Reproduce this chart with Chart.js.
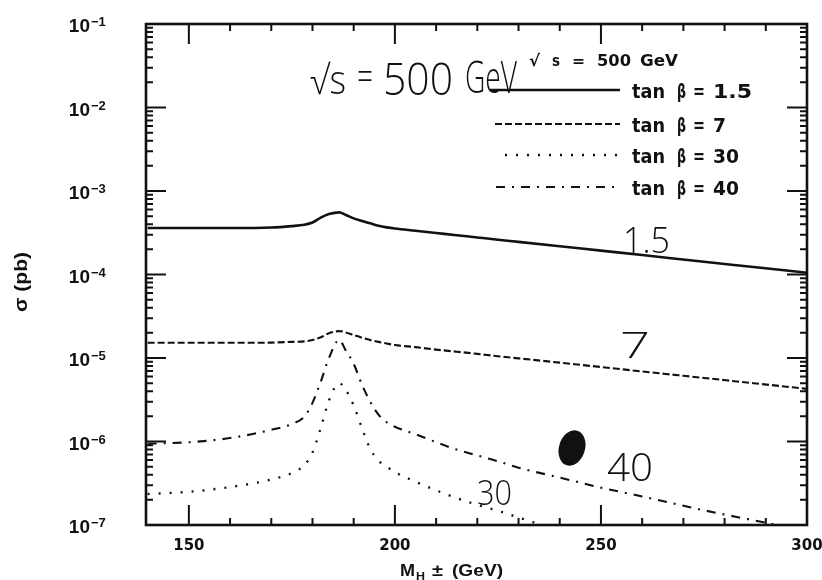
<!DOCTYPE html>
<html>
<head>
<meta charset="utf-8">
<script src="https://cdn.jsdelivr.net/npm/chart.js@4.4.0/dist/chart.umd.min.js"></script>
<style>
html, body { margin: 0; padding: 0; background: #fff; }
#wrap { width: 822px; height: 580px; }
</style>
</head>
<body>
<div id="wrap"><canvas id="xsec-chart" width="822" height="580"></canvas></div>
<script>
// charged Higgs mass (GeV)
var masses = [140, 150, 160, 170, 175, 178, 180, 182, 184, 186.5, 188, 190, 192, 194, 196, 198, 200,
              205, 210, 215, 220, 225, 230, 240, 250, 260, 275, 287, 300];

// cross sections (pb), one array per tan beta
var tanB15 = [3.6e-4, 3.6e-4, 3.6e-4, 3.65e-4, 3.8e-4, 3.95e-4, 4.2e-4, 4.8e-4, 5.3e-4, 5.55e-4, 5.2e-4, 4.7e-4, 4.37e-4, 4.1e-4, 3.84e-4, 3.67e-4, 3.55e-4,
              3.34e-4, 3.14e-4, 2.95e-4, 2.78e-4, 2.61e-4, 2.46e-4, 2.18e-4, 1.93e-4, 1.71e-4, 1.42e-4, 1.23e-4, 1.05e-4];
var tanB7 = [1.52e-5, 1.52e-5, 1.52e-5, 1.53e-5, 1.56e-5, 1.58e-5, 1.64e-5, 1.77e-5, 1.98e-5, 2.1e-5, 2.03e-5, 1.88e-5, 1.75e-5, 1.64e-5, 1.56e-5, 1.49e-5, 1.43e-5,
             1.35e-5, 1.26e-5, 1.19e-5, 1.12e-5, 1.05e-5, 9.9e-6, 8.8e-6, 7.8e-6, 6.9e-6, 5.77e-6, 4.99e-6, 4.27e-6];
var tanB30 = [2.35e-7, 2.5e-7, 2.85e-7, 3.5e-7, 4.2e-7, 5.2e-7, 7.4e-7, 1.45e-6, 3.1e-6, 5.0e-6, 4.2e-6, 2.7e-6, 1.45e-6, 8.2e-7, 5.9e-7, 5.0e-7, 4.3e-7,
              3.3e-7, 2.6e-7, 2.1e-7, 1.74e-7, 1.48e-7, 1.23e-7, 8.5e-8, null, null, null, null, null];
var tanB40 = [9.4e-7, 9.8e-7, 1.1e-6, 1.38e-6, 1.62e-6, 1.98e-6, 2.9e-6, 5.2e-6, 1.0e-5, 1.65e-5, 1.25e-5, 8.5e-6, 4.8e-6, 3.0e-6, 2.1e-6, 1.7e-6, 1.5e-6,
              1.22e-6, 9.8e-7, 8.0e-7, 6.8e-7, 5.8e-7, 4.85e-7, 3.7e-7, 2.8e-7, 2.2e-7, 1.5e-7, 1.14e-7, 8.5e-8];

var legendLabels = ['1.5', '7', '30', '40'];
var xMajorTicks = [150, 200, 250, 300];
var xMinorTicks = [160, 170, 180, 190, 210, 220, 230, 240, 260, 270, 280, 290];
var yDecades = [1e-7, 1e-6, 1e-5, 1e-4, 1e-3, 1e-2, 1e-1];
var yExponents = ['\u22127', '\u22126', '\u22125', '\u22124', '\u22123', '\u22122', '\u22121'];
var yMinorFactors = [2, 3, 4, 5, 6, 7, 8, 9];

var ink = '#111';
var dashes = [[], [7, 3], [2, 9], [9, 7, 2, 7]];
var widths = [2.6, 2.1, 2.3, 2.1];
var handFont = '300 40px "Open Sans", "Liberation Sans", sans-serif';

function points(values) {
    return masses.map(function (m, i) { return { x: m, y: values[i] }; });
}

function fitText(ctx, text, x, y, w, font) {
    ctx.font = font;
    var m = ctx.measureText(text).width;
    ctx.save();
    ctx.translate(x, y);
    ctx.scale(w / m, 1);
    ctx.fillText(text, 0, 0);
    ctx.restore();
}

var paperPlugin = {
    id: 'paper',
    afterDraw: function (chart) {
        var ctx = chart.ctx;
        var a = chart.chartArea;
        var xs = chart.scales.x;
        var ys = chart.scales.y;

        ctx.save();
        ctx.strokeStyle = ink;
        ctx.fillStyle = ink;

        // frame
        ctx.lineWidth = 2.6;
        ctx.strokeRect(a.left, a.top, a.right - a.left, a.bottom - a.top);

        // inward ticks on all four sides
        ctx.lineWidth = 2;
        ctx.beginPath();
        function xTick(v, len) {
            var px = xs.getPixelForValue(v);
            ctx.moveTo(px, a.bottom); ctx.lineTo(px, a.bottom - len);
            ctx.moveTo(px, a.top); ctx.lineTo(px, a.top + len);
        }
        function yTick(v, len) {
            var py = ys.getPixelForValue(v);
            ctx.moveTo(a.left, py); ctx.lineTo(a.left + len, py);
            ctx.moveTo(a.right, py); ctx.lineTo(a.right - len, py);
        }
        xMajorTicks.forEach(function (v) { xTick(v, 20); });
        xMinorTicks.forEach(function (v) { xTick(v, 7); });
        yDecades.forEach(function (d, i) {
            yTick(d, 20);
            if (i < yDecades.length - 1) {
                yMinorFactors.forEach(function (f) { yTick(d * f, 7); });
            }
        });
        ctx.stroke();

        // y tick labels 10^-n
        ctx.textBaseline = 'alphabetic';
        yDecades.forEach(function (d, i) {
            var py = ys.getPixelForValue(d);
            ctx.font = 'bold 19px "Liberation Sans", sans-serif';
            ctx.textAlign = 'right';
            ctx.fillText('10', 90, py + 8);
            ctx.font = 'bold 13px "Liberation Sans", sans-serif';
            ctx.textAlign = 'left';
            ctx.fillText(yExponents[i], 91, py + 2);
        });

        // axis titles
        ctx.textAlign = 'left';
        ctx.save();
        ctx.translate(27, 312);
        ctx.rotate(-Math.PI / 2);
        fitText(ctx, '\u03c3 (pb)', 0, 0, 60, 'bold 19px "Liberation Sans", sans-serif');
        ctx.restore();
        fitText(ctx, 'M', 400, 576, 15, 'bold 17px "Liberation Sans", sans-serif');
        fitText(ctx, 'H', 416, 580, 9, 'bold 10px "Liberation Sans", sans-serif');
        fitText(ctx, '\u00b1', 432, 576, 11, 'bold 17px "Liberation Sans", sans-serif');
        fitText(ctx, '(GeV)', 452, 576, 51, 'bold 17px "Liberation Sans", sans-serif');

        // legend
        var bold16 = 'bold 16px "DejaVu Sans", sans-serif';
        fitText(ctx, '\u221a', 529, 66, 11, bold16);
        fitText(ctx, 's', 552, 66, 8, bold16);
        fitText(ctx, '=', 572, 66, 13, bold16);
        fitText(ctx, '500', 597, 66, 34, bold16);
        fitText(ctx, 'GeV', 640, 66, 38, bold16);
        var rows = [90, 124, 155, 187];
        var starts = [490, 495, 505, 496];
        var bold19 = 'bold 19px "DejaVu Sans", sans-serif';
        legendLabels.forEach(function (lab, i) {
            ctx.save();
            ctx.lineWidth = widths[i];
            ctx.setLineDash(dashes[i]);
            ctx.beginPath();
            ctx.moveTo(starts[i], rows[i]);
            ctx.lineTo(620, rows[i]);
            ctx.stroke();
            ctx.restore();
            var base = rows[i] + 8;
            fitText(ctx, 'tan', 632, base, 33, bold19);
            fitText(ctx, '\u03b2', 677, base, 9, bold19);
            fitText(ctx, '=', 693, base, 12, bold19);
            fitText(ctx, lab, 713, base, lab.length === 1 ? 13 : lab.length * 13, bold19);
        });

        // handwritten notes on the figure
        fitText(ctx, '\u221as', 310, 94, 36, handFont);
        fitText(ctx, '=', 357, 90, 16, handFont);
        fitText(ctx, '500', 383, 95, 70, '300 44px "Open Sans", "Liberation Sans", sans-serif');
        fitText(ctx, 'GeV', 465, 93, 52, '300 44px "Open Sans", "Liberation Sans", sans-serif');
        fitText(ctx, '1.5', 623, 253, 47, '300 36px "Open Sans", "Liberation Sans", sans-serif');
        fitText(ctx, '7', 620, 358, 30, '300 36px "Open Sans", "Liberation Sans", sans-serif');
        fitText(ctx, '40', 607, 481, 46, '300 38px "Open Sans", "Liberation Sans", sans-serif');
        fitText(ctx, '30', 477, 505, 35, '300 34px "Open Sans", "Liberation Sans", sans-serif');

        // ink blot
        ctx.beginPath();
        ctx.ellipse(572, 448, 13, 18, 0.3, 0, Math.PI * 2);
        ctx.fill();

        ctx.restore();
    }
};

var seriesValues = [tanB15, tanB7, tanB30, tanB40];

new Chart(document.getElementById('xsec-chart').getContext('2d'), {
    type: 'line',
    data: {
        datasets: seriesValues.map(function (vals, i) {
            return {
                label: 'tan \u03b2 = ' + legendLabels[i],
                data: points(vals),
                borderColor: ink,
                borderWidth: widths[i],
                borderDash: dashes[i],
                borderCapStyle: 'butt',
                pointRadius: 0,
                fill: false,
                cubicInterpolationMode: 'monotone',
                spanGaps: false
            };
        })
    },
    options: {
        responsive: false,
        animation: false,
        events: [],
        layout: {
            padding: { top: 24, right: 15, bottom: 0, left: 0 }
        },
        plugins: {
            legend: { display: false },
            tooltip: { enabled: false }
        },
        scales: {
            x: {
                type: 'linear',
                min: 139.6,
                max: 300,
                afterBuildTicks: function (scale) {
                    scale.ticks = xMajorTicks.map(function (v) { return { value: v }; });
                },
                afterFit: function (scale) {
                    scale.height = 55;
                    scale.paddingLeft = 0;
                    scale.paddingRight = 0;
                },
                grid: { display: false, drawTicks: false },
                border: { display: false },
                ticks: {
                    color: ink,
                    padding: 12,
                    maxRotation: 0,
                    autoSkip: false,
                    font: { family: '"DejaVu Sans", sans-serif', size: 15, weight: 'bold' }
                }
            },
            y: {
                type: 'logarithmic',
                min: 1e-7,
                max: 1e-1,
                afterBuildTicks: function (scale) {
                    scale.ticks = yDecades.map(function (v) { return { value: v }; });
                },
                afterFit: function (scale) {
                    scale.width = 146;
                    scale.paddingTop = 0;
                    scale.paddingBottom = 0;
                },
                grid: { display: false, drawTicks: false },
                border: { display: false },
                ticks: { display: false }
            }
        }
    },
    plugins: [paperPlugin]
});
</script>
</body>
</html>
